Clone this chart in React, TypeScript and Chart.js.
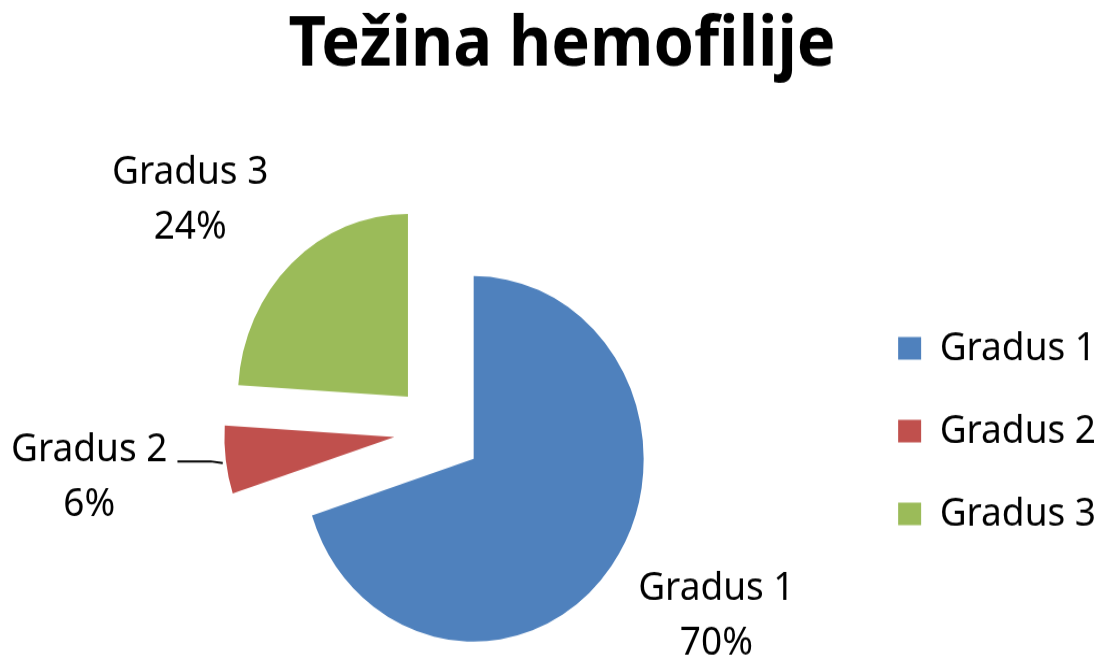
import React, { useEffect, useRef } from 'react';
import { Chart, registerables } from 'chart.js';

Chart.register(...registerables);

// ---- data ----
const TITLE = 'Težina hemofilije';
const CATEGORIES = ['Gradus 1', 'Gradus 2', 'Gradus 3'];
const VALUES = [70, 6, 24];
const COLORS = ['#4F81BD', '#C0504D', '#9BBB59'];

// ---- styles / layout ----
const FONT = "'Noto Sans', sans-serif";
const W = 1106;
const H = 659;
const HI = 613; // internal canvas height (stretched vertically to H like the original picture)
const RADIUS = 170;
const EXPLODE = 44;
const LABEL_GAP = [111, 137, 117];
const LABEL_ANGLE_ADJ = [-4.9, 0.8, -5.3];
const LEADER = [false, true, false];

const explodePlugin = {
  id: 'explode',
  beforeDatasetDraw(chart: any, args: any) {
    const ctx = chart.ctx;
    args.meta.data.forEach((arc: any) => {
      const p = arc.getProps(['startAngle', 'endAngle'], true);
      const mid = (p.startAngle + p.endAngle) / 2;
      ctx.save();
      ctx.translate(Math.cos(mid) * EXPLODE, Math.sin(mid) * EXPLODE);
      arc.draw(ctx);
      ctx.restore();
    });
    return false;
  },
};

const sliceLabels = {
  id: 'sliceLabels',
  afterDatasetsDraw(chart: any) {
    const ctx = chart.ctx;
    const meta = chart.getDatasetMeta(0);
    const data = chart.data.datasets[0].data as number[];
    const total = data.reduce((a, b) => a + b, 0);
    ctx.save();
    ctx.font = `37px ${FONT}`;
    ctx.fillStyle = '#000';
    ctx.strokeStyle = '#000';
    ctx.textAlign = 'center';
    ctx.textBaseline = 'alphabetic';
    meta.data.forEach((arc: any, i: number) => {
      const p = arc.getProps(['x', 'y', 'startAngle', 'endAngle', 'outerRadius'], true);
      const trueMid = (p.startAngle + p.endAngle) / 2;
      const mid = trueMid + (LABEL_ANGLE_ADJ[i] * Math.PI) / 180;
      const d = p.outerRadius + EXPLODE + LABEL_GAP[i];
      const ax = p.x + Math.cos(mid) * d;
      const ay = p.y + Math.sin(mid) * d;
      const b1 = ay - 11;
      const b2 = ay + 40;
      const label = String(chart.data.labels[i]);
      const pct = Math.round((data[i] / total) * 100) + '%';
      ctx.fillText(label, ax, b1);
      ctx.fillText(pct, ax, b2);
      if (LEADER[i]) {
        const w = ctx.measureText(label).width;
        const sx = ax + w / 2 + 10;
        const ex = p.x + Math.cos(trueMid) * (p.outerRadius + EXPLODE) - 3;
        const ey = p.y + Math.sin(trueMid) * (p.outerRadius + EXPLODE) + 3;
        ctx.lineWidth = 2;
        ctx.beginPath();
        ctx.moveTo(sx, b1);
        ctx.lineTo(ex - 12, b1);
        ctx.lineTo(ex, ey);
        ctx.stroke();
      }
    });
    ctx.restore();
  },
};

export default function App() {
  const ref = useRef<HTMLCanvasElement | null>(null);

  useEffect(() => {
    if (!ref.current) return;
    const chart = new Chart(ref.current, {
      type: 'pie',
      data: {
        labels: CATEGORIES,
        datasets: [
          {
            data: VALUES,
            backgroundColor: COLORS,
            borderColor: COLORS,
            borderWidth: 0,
          },
        ],
      },
      options: {
        responsive: false,
        maintainAspectRatio: false,
        animation: false,
        devicePixelRatio: 1,
        events: [],
        radius: RADIUS,
        layout: { padding: { left: 18, right: 0, top: 0, bottom: 0 } },
        plugins: {
          title: {
            display: true,
            text: TITLE,
            color: '#000',
            font: { family: FONT, size: 65, weight: 'bold' },
            padding: { top: 3, bottom: 108 },
          },
          legend: {
            display: true,
            position: 'right',
            align: 'center',
            fullSize: false,
            labels: {
              color: '#000',
              boxWidth: 23,
              boxHeight: 21,
              padding: 40,
              font: { family: FONT, size: 37 },
            },
          },
          tooltip: { enabled: false },
        },
      } as any,
      plugins: [explodePlugin, sliceLabels],
    });
    return () => chart.destroy();
  }, []);

  return (
    <div style={{ position: 'fixed', left: 0, top: 0, width: W, height: H, background: '#fff' }}>
      <canvas
        ref={ref}
        width={W}
        height={HI}
        style={{ width: `${W}px`, height: `${H}px`, display: 'block' }}
      />
    </div>
  );
}
